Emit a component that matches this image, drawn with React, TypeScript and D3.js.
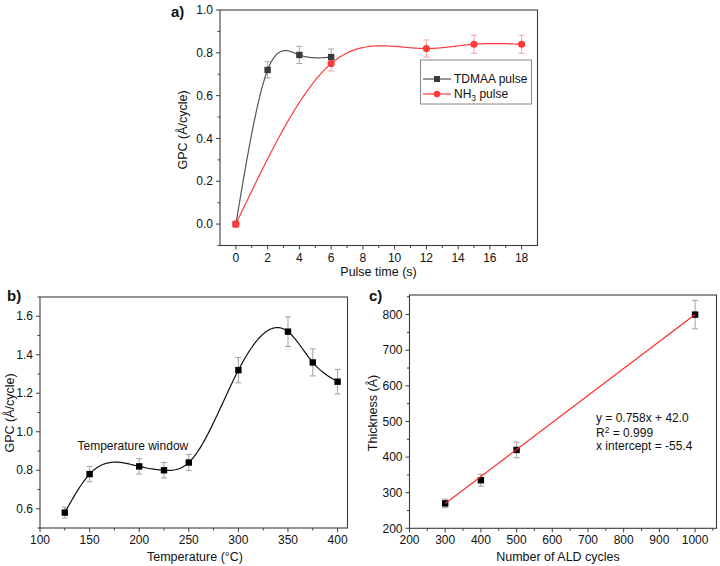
import React from "react";
import * as d3 from "d3";

// ---------- Data ----------
// Panel a
const tdmaaTime = [0, 2, 4, 6];
const tdmaaGPC = [0, 0.72, 0.79, 0.78];
const tdmaaErr = [0, 0.038, 0.04, 0.038];
const nh3Time = [0, 6, 12, 15, 18];
const nh3GPC = [0, 0.75, 0.82, 0.84, 0.84];
const nh3Err = [0, 0.035, 0.04, 0.042, 0.042];
const aXTicks = [0, 2, 4, 6, 8, 10, 12, 14, 16, 18];
const aYTicks = [0.0, 0.2, 0.4, 0.6, 0.8, 1.0];

// Panel b
const tempC = [125, 150, 200, 225, 250, 300, 350, 375, 400];
const tempGPC = [0.58, 0.78, 0.82, 0.8, 0.84, 1.32, 1.52, 1.36, 1.26];
const tempErr = [0.028, 0.04, 0.04, 0.04, 0.042, 0.066, 0.077, 0.07, 0.064];
const bXTicks = [100, 150, 200, 250, 300, 350, 400];
const bYTicks = [0.6, 0.8, 1.0, 1.2, 1.4, 1.6];

// Panel c
const cycles = [300, 400, 500, 1000];
const thickness = [270, 335, 420, 800];
const thickErr = [12, 17, 22, 40];
const fitSlope = 0.758;
const fitIntercept = 42.0;
const fitRange = [300, 1000];
const cXTicks = [200, 300, 400, 500, 600, 700, 800, 900, 1000];
const cYTicks = [200, 300, 400, 500, 600, 700, 800];

const FONT = "'Liberation Sans', Arial, sans-serif";
const FRAME = "#3c3c3c";

// Natural cubic spline in x (as the plotting software draws it), sampled for d3.line
function splinePoints(xs: number[], ys: number[], steps = 200): [number, number][] {
  const n = xs.length;
  const h: number[] = [];
  for (let i = 0; i < n - 1; i++) h.push(xs[i + 1] - xs[i]);
  const M = new Array(n).fill(0);
  if (n > 2) {
    const m = n - 2;
    const a = new Array(m).fill(0),
      b = new Array(m).fill(0),
      c = new Array(m).fill(0),
      r = new Array(m).fill(0);
    for (let i = 1; i <= m; i++) {
      a[i - 1] = h[i - 1];
      b[i - 1] = 2 * (h[i - 1] + h[i]);
      c[i - 1] = h[i];
      r[i - 1] = 6 * ((ys[i + 1] - ys[i]) / h[i] - (ys[i] - ys[i - 1]) / h[i - 1]);
    }
    for (let i = 1; i < m; i++) {
      const w = a[i] / b[i - 1];
      b[i] -= w * c[i - 1];
      r[i] -= w * r[i - 1];
    }
    const sol = new Array(m).fill(0);
    sol[m - 1] = r[m - 1] / b[m - 1];
    for (let i = m - 2; i >= 0; i--) sol[i] = (r[i] - c[i] * sol[i + 1]) / b[i];
    for (let i = 0; i < m; i++) M[i + 1] = sol[i];
  }
  const out: [number, number][] = [];
  const x0 = xs[0],
    x1 = xs[n - 1];
  for (let s = 0; s <= steps; s++) {
    const x = x0 + ((x1 - x0) * s) / steps;
    let i = 0;
    while (i < n - 2 && x > xs[i + 1]) i++;
    const hi = h[i];
    const A = (xs[i + 1] - x) / hi;
    const B = (x - xs[i]) / hi;
    const y =
      A * ys[i] +
      B * ys[i + 1] +
      ((A * A * A - A) * M[i] + (B * B * B - B) * M[i + 1]) * (hi * hi) / 6;
    out.push([x, y]);
  }
  return out;
}

type AxisProps = {
  x: d3.ScaleLinear<number, number>;
  y: d3.ScaleLinear<number, number>;
  xTicks: number[];
  yTicks: number[];
  xMinor: number[];
  yMinor: number[];
  xFmt: (v: number) => string;
  yFmt: (v: number) => string;
};

function Frame({ x, y, xTicks, yTicks, xMinor, yMinor, xFmt, yFmt }: AxisProps) {
  const [x0, x1] = x.range();
  const [y0, y1] = y.range();
  return (
    <g>
      <rect x={x0} y={y1} width={x1 - x0} height={y0 - y1} fill="none" stroke={FRAME} strokeWidth={1.1} />
      {xTicks.map((t) => (
        <g key={"xt" + t}>
          <line x1={x(t)} x2={x(t)} y1={y0} y2={y0 + 4} stroke={FRAME} strokeWidth={1} />
          <text x={x(t)} y={y0 + 16} textAnchor="middle" fontSize={12} fontFamily={FONT} fill="#111">
            {xFmt(t)}
          </text>
        </g>
      ))}
      {xMinor.map((t) => (
        <line key={"xm" + t} x1={x(t)} x2={x(t)} y1={y0} y2={y0 + 2.5} stroke={FRAME} strokeWidth={1} />
      ))}
      {yTicks.map((t) => (
        <g key={"yt" + t}>
          <line x1={x0 - 4} x2={x0} y1={y(t)} y2={y(t)} stroke={FRAME} strokeWidth={1} />
          <text x={x0 - 7} y={y(t) + 4.2} textAnchor="end" fontSize={12} fontFamily={FONT} fill="#111">
            {yFmt(t)}
          </text>
        </g>
      ))}
      {yMinor.map((t) => (
        <line key={"ym" + t} x1={x0 - 2.5} x2={x0} y1={y(t)} y2={y(t)} stroke={FRAME} strokeWidth={1} />
      ))}
    </g>
  );
}

function ErrorBars({ xs, ys, es, x, y, color }: any) {
  return (
    <g stroke={color} strokeWidth={1}>
      {xs.map((xv: number, i: number) =>
        es[i] > 0 ? (
          <g key={i}>
            <line x1={x(xv)} x2={x(xv)} y1={y(ys[i] - es[i])} y2={y(ys[i] + es[i])} />
            <line x1={x(xv) - 3} x2={x(xv) + 3} y1={y(ys[i] - es[i])} y2={y(ys[i] - es[i])} />
            <line x1={x(xv) - 3} x2={x(xv) + 3} y1={y(ys[i] + es[i])} y2={y(ys[i] + es[i])} />
          </g>
        ) : null
      )}
    </g>
  );
}

const range = (a: number, b: number, s: number) => d3.range(a, b + s / 2, s);

export default function App() {
  // ---- Panel a ----
  const ax = d3.scaleLinear().domain([-1, 19]).range([220, 537.5]);
  const ay = d3.scaleLinear().domain([-0.1, 1.0]).range([245.5, 10]);
  const lineA = d3
    .line<[number, number]>()
    .x((d) => ax(d[0]))
    .y((d) => ay(d[1]));
  const tdmaaPath = lineA(splinePoints(tdmaaTime, tdmaaGPC));
  const nh3Path = lineA(splinePoints(nh3Time, nh3GPC));

  // ---- Panel b ----
  const bx = d3.scaleLinear().domain([100, 410]).range([40, 347.5]);
  const by = d3.scaleLinear().domain([0.5, 1.7]).range([528, 297]);
  const lineB = d3
    .line<[number, number]>()
    .x((d) => bx(d[0]))
    .y((d) => by(d[1]));
  const tempPath = lineB(splinePoints(tempC, tempGPC));

  // ---- Panel c ----
  const cx = d3.scaleLinear().domain([200, 1060]).range([409.5, 716.5]);
  const cy = d3.scaleLinear().domain([200, 855]).range([528.3, 295]);
  const fitPts = fitRange.map((v) => [cx(v), cy(fitSlope * v + fitIntercept)]);

  const fmt1 = d3.format(".1f");
  const fmt0 = d3.format("d");

  return (
    <svg
      width={720}
      height={566}
      style={{ position: "absolute", left: 0, top: 0, background: "#fff" }}
      fontFamily={FONT}
    >
      <rect width={720} height={566} fill="#fff" />

      {/* ===== Panel a ===== */}
      <Frame
        x={ax}
        y={ay}
        xTicks={aXTicks}
        yTicks={aYTicks}
        xMinor={range(1, 17, 2)}
        yMinor={[-0.1, 0.1, 0.3, 0.5, 0.7, 0.9]}
        xFmt={fmt0}
        yFmt={fmt1}
      />
      <ErrorBars xs={tdmaaTime} ys={tdmaaGPC} es={tdmaaErr} x={ax} y={ay} color="#a8a8a8" />
      <ErrorBars xs={nh3Time} ys={nh3GPC} es={nh3Err} x={ax} y={ay} color="#f4a0a0" />
      <path d={tdmaaPath || ""} fill="none" stroke="#555" strokeWidth={1.2} />
      <path d={nh3Path || ""} fill="none" stroke="#ff3a3a" strokeWidth={1.2} />
      {tdmaaTime.map((t, i) => (
        <rect key={"ta" + i} x={ax(t) - 3.2} y={ay(tdmaaGPC[i]) - 3.2} width={6.4} height={6.4} fill="#3a3a3a" />
      ))}
      {nh3Time.map((t, i) => (
        <circle key={"na" + i} cx={ax(t)} cy={ay(nh3GPC[i])} r={3.6} fill="#ff3a3a" />
      ))}
      <rect x={ax(0) - 3.2} y={ay(0) - 3.2} width={6.4} height={6.4} fill="#ff3a3a" />
      {/* legend */}
      <rect x={420.5} y={60} width={111} height={44} fill="#fff" stroke="#888" strokeWidth={1} />
      <line x1={423} x2={451} y1={79} y2={79} stroke="#555" strokeWidth={1.2} />
      <rect x={434} y={76} width={6} height={6} fill="#3a3a3a" />
      <text x={454} y={83} fontSize={12} fill="#111">TDMAA pulse</text>
      <line x1={423} x2={451} y1={94} y2={94} stroke="#ff3a3a" strokeWidth={1.2} />
      <circle cx={437} cy={94} r={3.3} fill="#ff3a3a" />
      <text x={454} y={98} fontSize={12} fill="#111">
        NH<tspan fontSize={8.5} dy={3}>3</tspan>
        <tspan dy={-3}> pulse</tspan>
      </text>
      <text x={378.5} y={276} textAnchor="middle" fontSize={12.5} fill="#111">Pulse time (s)</text>
      <text transform={`translate(187,130) rotate(-90)`} textAnchor="middle" fontSize={12.5} fill="#111">
        GPC (Å/cycle)
      </text>
      <text x={171} y={17} fontSize={15} fontWeight="bold" fill="#111">a)</text>

      {/* ===== Panel b ===== */}
      <Frame
        x={bx}
        y={by}
        xTicks={bXTicks}
        yTicks={bYTicks}
        xMinor={range(125, 400, 50)}
        yMinor={[0.5, 0.7, 0.9, 1.1, 1.3, 1.5, 1.7]}
        xFmt={fmt0}
        yFmt={fmt1}
      />
      <ErrorBars xs={tempC} ys={tempGPC} es={tempErr} x={bx} y={by} color="#a0a0a0" />
      <path d={tempPath || ""} fill="none" stroke="#111" strokeWidth={1.2} />
      {tempC.map((t, i) => (
        <rect key={"tb" + i} x={bx(t) - 3.2} y={by(tempGPC[i]) - 3.2} width={6.4} height={6.4} fill="#000" />
      ))}
      <text x={77.5} y={450} fontSize={12} fill="#111">Temperature window</text>
      <text x={195} y={561} textAnchor="middle" fontSize={12.5} fill="#111">Temperature (°C)</text>
      <text transform={`translate(13.5,413) rotate(-90)`} textAnchor="middle" fontSize={12.5} fill="#111">
        GPC (Å/cycle)
      </text>
      <text x={7} y={301} fontSize={15} fontWeight="bold" fill="#111">b)</text>

      {/* ===== Panel c ===== */}
      <Frame
        x={cx}
        y={cy}
        xTicks={cXTicks}
        yTicks={cYTicks}
        xMinor={range(250, 1050, 100)}
        yMinor={range(250, 850, 100)}
        xFmt={fmt0}
        yFmt={fmt0}
      />
      <ErrorBars xs={cycles} ys={thickness} es={thickErr} x={cx} y={cy} color="#a0a0a0" />
      {cycles.map((t, i) => (
        <rect key={"tc" + i} x={cx(t) - 3.2} y={cy(thickness[i]) - 3.2} width={6.4} height={6.4} fill="#000" />
      ))}
      <line x1={fitPts[0][0]} y1={fitPts[0][1]} x2={fitPts[1][0]} y2={fitPts[1][1]} stroke="#ff2a2a" strokeWidth={1.2} />
      <text x={596} y={422} fontSize={12} fill="#111">y = 0.758x + 42.0</text>
      <text x={596} y={437} fontSize={12} fill="#111">
        R<tspan fontSize={8.5} dy={-4}>2</tspan>
        <tspan dy={4}> = 0.999</tspan>
      </text>
      <text x={596} y={450} fontSize={12} fill="#111">x intercept = -55.4</text>
      <text x={558} y={561} textAnchor="middle" fontSize={12.5} fill="#111">Number of ALD cycles</text>
      <text transform={`translate(377,413) rotate(-90)`} textAnchor="middle" fontSize={12.5} fill="#111">
        Thickness (Å)
      </text>
      <text x={369} y={301} fontSize={15} fontWeight="bold" fill="#111">c)</text>
    </svg>
  );
}
